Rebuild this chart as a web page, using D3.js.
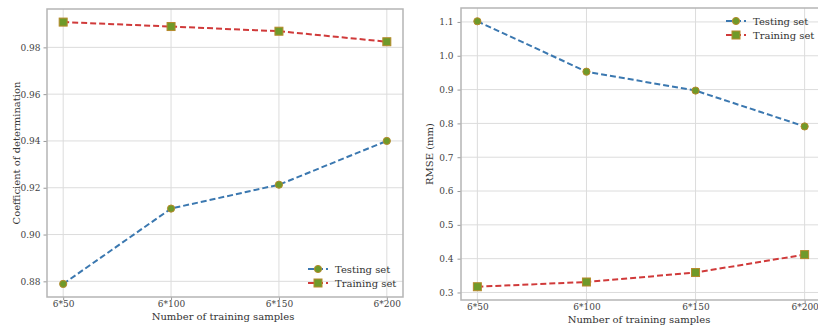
<!DOCTYPE html>
<html>
<head>
<meta charset="utf-8">
<script src="https://cdn.jsdelivr.net/npm/d3@7"></script>
<style>
  body { margin: 0; background: #fff; }
  svg text { font-family: "DejaVu Serif", serif; }
</style>
</head>
<body>
<svg id="chart" width="818" height="327"></svg>
<script>
const categories = ["6*50", "6*100", "6*150", "6*200"];

// left panel: coefficient of determination
const r2Testing = [0.8789, 0.9111, 0.9213, 0.9400];
const r2Training = [0.9908, 0.9889, 0.9869, 0.9824];
const r2Ticks = [0.88, 0.90, 0.92, 0.94, 0.96, 0.98];

// right panel: RMSE
const rmseTesting = [1.102, 0.953, 0.897, 0.791];
const rmseTraining = [0.317, 0.331, 0.359, 0.412];
const rmseTicks = [0.3, 0.4, 0.5, 0.6, 0.7, 0.8, 0.9, 1.0, 1.1];

const svg = d3.select("#chart");

// draw one subplot
function panel(opts) {
  const { left, right, top, bottom, testing, training, ticks, fmt, ylabel, legendPos, ylabelX, yPad } = opts;

  const all = testing.concat(training);
  const lo = d3.min(all), hi = d3.max(all);
  const pad = (hi - lo) * 0.05;

  const x = d3.scaleLinear().domain([-0.15, 3.15]).range([left, right]);
  const y = d3.scaleLinear().domain([lo - pad, hi + pad]).range([bottom, top]);

  const g = svg.append("g");

  // grid
  g.selectAll("line.vgrid")
    .data(categories)
    .enter()
    .append("line")
    .attr("x1", (d, i) => x(i))
    .attr("x2", (d, i) => x(i))
    .attr("y1", top)
    .attr("y2", bottom)
    .style("stroke", "#dcdcdc")
    .style("stroke-width", 1);

  g.selectAll("line.hgrid")
    .data(ticks)
    .enter()
    .append("line")
    .attr("x1", left)
    .attr("x2", right)
    .attr("y1", (d) => y(d))
    .attr("y2", (d) => y(d))
    .style("stroke", "#dcdcdc")
    .style("stroke-width", 1);

  // axes
  const yAxis = d3.axisLeft(y).tickValues(ticks).tickFormat(fmt).tickSize(3.5).tickPadding(yPad);
  g.append("g")
    .attr("transform", `translate(${left},0)`)
    .call(yAxis)
    .call((a) => a.select(".domain").remove());

  const xAxis = d3.axisBottom(x).tickValues([0, 1, 2, 3]).tickFormat((i) => categories[i]).tickSize(3).tickPadding(1);
  g.append("g")
    .attr("transform", `translate(0,${bottom})`)
    .call(xAxis)
    .call((a) => a.select(".domain").remove());

  g.selectAll(".tick line").style("stroke", "#999");
  g.selectAll(".tick text").style("fill", "#444").style("font-size", "9px");

  // frame
  g.append("rect")
    .attr("x", left)
    .attr("y", top)
    .attr("width", right - left)
    .attr("height", bottom - top)
    .style("fill", "none")
    .style("stroke", "#b5b5b5")
    .style("stroke-width", 1.5);

  // lines
  const line = d3.line().x((d, i) => x(i)).y((d) => y(d));

  const series = [
    { name: "Testing set", values: testing, color: "#3b78b0", shape: "circle" },
    { name: "Training set", values: training, color: "#d03a3a", shape: "square" },
  ];

  series.forEach((s) => {
    g.append("path")
      .datum(s.values)
      .attr("d", line)
      .style("fill", "none")
      .style("stroke", s.color)
      .style("stroke-width", 2)
      .style("stroke-dasharray", "6,3");

    drawMarkers(g, s.values.map((v, i) => [x(i), y(v)]), s.shape);
  });

  // legend
  series.forEach((s, i) => {
    const ly = legendPos.y + i * 14;
    g.append("line")
      .attr("x1", legendPos.x - 10)
      .attr("x2", legendPos.x + 10)
      .attr("y1", ly)
      .attr("y2", ly)
      .style("stroke", s.color)
      .style("stroke-width", 2)
      .style("stroke-dasharray", "6,3");
    drawMarkers(g, [[legendPos.x, ly]], s.shape);
    g.append("text")
      .attr("x", legendPos.x + 17)
      .attr("y", ly)
      .attr("dy", "0.35em")
      .style("font-size", "10px")
      .style("fill", "#333")
      .text(s.name);
  });

  // axis labels
  g.append("text")
    .attr("x", (left + right) / 2 - 2)
    .attr("y", bottom + 22.5)
    .attr("text-anchor", "middle")
    .style("font-size", "10px")
    .style("fill", "#333")
    .text("Number of training samples");

  g.append("text")
    .attr("transform", `translate(${ylabelX},${(top + bottom) / 2}) rotate(-90)`)
    .attr("text-anchor", "middle")
    .style("font-size", "10px")
    .style("fill", "#333")
    .text(ylabel);
}

function drawMarkers(g, pts, shape) {
  pts.forEach(([px, py]) => {
    if (shape === "circle") {
      g.append("circle")
        .attr("cx", px)
        .attr("cy", py)
        .attr("r", 3.6)
        .style("fill", "#6f9a2a")
        .style("stroke", "#b58a2a")
        .style("stroke-width", 1);
    } else {
      g.append("rect")
        .attr("x", px - 4)
        .attr("y", py - 4)
        .attr("width", 8)
        .attr("height", 8)
        .style("fill", "#6f9a2a")
        .style("stroke", "#b58a2a")
        .style("stroke-width", 1);
    }
  });
}

panel({
  left: 47, right: 403, top: 9, bottom: 297,
  testing: r2Testing, training: r2Training, ticks: r2Ticks,
  fmt: d3.format(".2f"), ylabel: "Coefficient of determination",
  legendPos: { x: 318, y: 269 }, ylabelX: 20, yPad: 3,
});

panel({
  left: 461, right: 821, top: 8, bottom: 300,
  testing: rmseTesting, training: rmseTraining, ticks: rmseTicks,
  fmt: d3.format(".1f"), ylabel: "RMSE (mm)",
  legendPos: { x: 736, y: 21 }, ylabelX: 433, yPad: 4,
});
</script>
</body>
</html>
